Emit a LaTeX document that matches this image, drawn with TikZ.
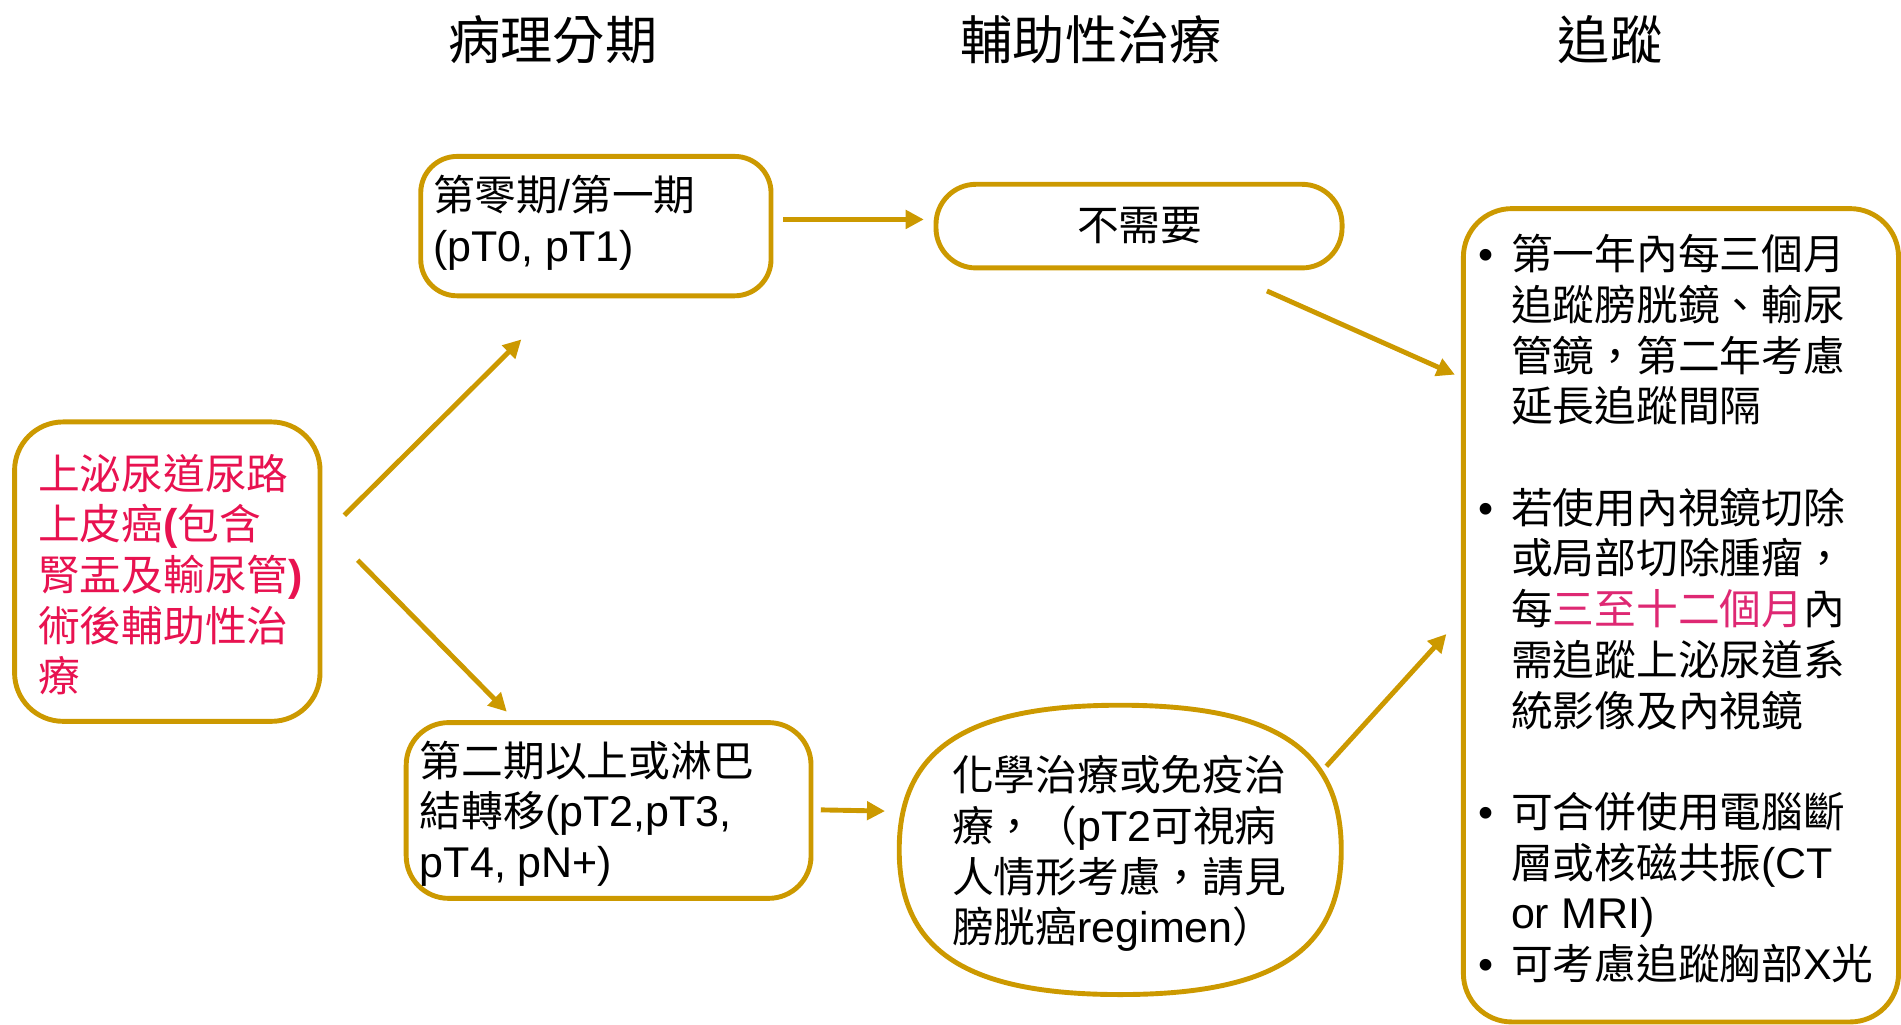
\documentclass[tikz,border=0pt]{standalone}
\usepackage{fontspec}
\setmainfont{Noto Sans CJK TC}
\newfontfamily\latf{Liberation Sans}[Scale=1.03]
\usetikzlibrary{arrows.meta,calc}
\definecolor{gold}{RGB}{204,153,0}
\definecolor{rd}{RGB}{232,18,80}
\definecolor{pk}{RGB}{222,40,115}
\newcommand\lt[1]{{\latf #1}}
\newcommand\bul{\makebox[0.54cm][l]{\lt{•}}}
\newcommand\ind{\hspace*{0.54cm}}
\begin{document}
\begin{tikzpicture}[x=0.02cm,y=-0.02cm,
  box/.style={draw=gold, line width=2.3pt, rounded corners=#1, inner sep=0pt},
  txt/.style={inner sep=0pt, align=left, font=\fontsize{19.6pt}{23.8pt}\selectfont},
  hdr/.style={inner sep=0pt, font=\fontsize{24.5pt}{29pt}\selectfont},
  outline/.style={draw=gold, line width=2.3pt},
  arr/.style={draw=gold, line width=2.3pt, -{Triangle[length=8.5pt,width=8.5pt]}}]
\useasboundingbox (0,0) rectangle (1568,845);

% headers
\node[hdr] (H1) at (456,33) {病理分期};
\node[hdr] (H2) at (900,33) {輔助性治療};
\node[hdr] (H3) at (1328,33) {追蹤};

% boxes
\node[box=0.8cm, minimum width=5.04cm, minimum height=4.94cm] (A) at (138,471.5) {};
\node[box=0.6cm, minimum width=5.78cm, minimum height=2.3cm] (B) at (491.5,186.5) {};
\node[box=0.66cm, minimum width=6.7cm, minimum height=1.38cm] (C) at (939.5,186.5) {};
\node[box=0.7cm, minimum width=6.68cm, minimum height=2.9cm] (D) at (502,668.5) {};
\node[inner sep=0pt, minimum width=7.28cm, minimum height=4.76cm] (E) at (924,701) {};
\draw[outline] (E.west)
  .. controls ($(E.west)+(0,-83)$) and ($(E.north)+(-127,0)$) .. (E.north)
  .. controls ($(E.north)+(127,0)$) and ($(E.east)+(0,-83)$) .. (E.east)
  .. controls ($(E.east)+(0,83)$) and ($(E.south)+(127,0)$) .. (E.south)
  .. controls ($(E.south)+(-127,0)$) and ($(E.west)+(0,83)$) .. (E.west) -- cycle;
\node[box=0.8cm, minimum width=7.18cm, minimum height=13.42cm] (R) at (1386.5,507.5) {};

% texts
\node[txt, text=rd, anchor=west] (At) at (31,474)
  {上泌尿道尿路\\上皮癌\lt{\bfseries(}包含\\腎盂及輸尿管\lt{\bfseries)}\\術後輔助性治\\療};
\node[txt, anchor=west] (Bt) at (357,183.5) {第零期\lt{/}第一期\\\lt{(pT0, pT1)}};
\node[txt] (Ct) at (940,186) {不需要};
\node[txt, anchor=west] (Dt) at (346,671)
  {第二期以上或淋巴\\結轉移\lt{(pT2,pT3,}\\\lt{pT4, pN+)}};
\node[txt, anchor=west] (Et) at (785,704)
  {化學治療或免疫治\\療，（\lt{pT2}可視病\\人情形考慮，請見\\膀胱癌\lt{regimen}）};
\node[txt, anchor=west] (Rt) at (1219,502)
  {\bul 第一年內每三個月\\
   \ind 追蹤膀胱鏡、輸尿\\
   \ind 管鏡，第二年考慮\\
   \ind 延長追蹤間隔\\[23.8pt]
   \bul 若使用內視鏡切除\\
   \ind 或局部切除腫瘤，\\
   \ind 每\textcolor{pk}{三至十二個月}內\\
   \ind 需追蹤上泌尿道系\\
   \ind 統影像及內視鏡\\[23.8pt]
   \bul 可合併使用電腦斷\\
   \ind 層或核磁共振\lt{(CT}\\
   \ind \lt{or MRI)}\\
   \bul 可考慮追蹤胸部\lt{X}光};

% connector end points
\coordinate (a1) at (284,425);
\coordinate (b1) at (430,280);
\coordinate (a2) at (295,462);
\coordinate (d1) at (418,587);
\coordinate (b2) at (646,181);
\coordinate (c1) at (762,181);
\coordinate (d2) at (677,668);
\coordinate (e1) at (730,669);
\coordinate (c2) at (1045,240);
\coordinate (r1) at (1200,309);
\coordinate (e2) at (1094,632);
\coordinate (r2) at (1193,523);

\draw[arr] (a1) -- (b1);
\draw[arr] (a2) -- (d1);
\draw[arr] (b2) -- (c1);
\draw[arr] (d2) -- (e1);
\draw[arr] (c2) -- (r1);
\draw[arr] (e2) -- (r2);
\end{tikzpicture}
\end{document}
